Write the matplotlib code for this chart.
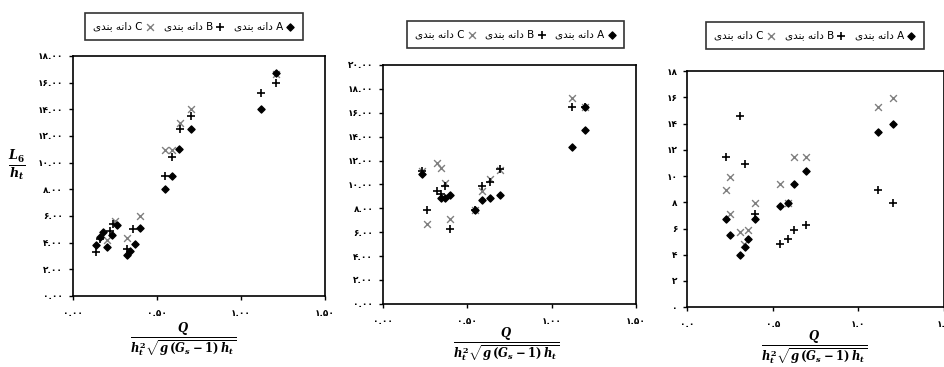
import matplotlib
matplotlib.use("Agg")
import matplotlib.pyplot as plt
from matplotlib.ticker import FuncFormatter

plt.rcParams['font.family'] = ['DejaVu Sans']
plt.rcParams['mathtext.fontset'] = 'custom'
plt.rcParams['mathtext.it'] = 'DejaVu Serif:bold:italic'
plt.rcParams['mathtext.rm'] = 'DejaVu Serif:bold'
plt.rcParams['mathtext.bf'] = 'DejaVu Serif:bold'

# panel 1 data
p1_a_x = [0.14, 0.16, 0.18, 0.20, 0.23, 0.26, 0.32, 0.34, 0.37, 0.40, 0.55, 0.59, 0.63, 0.70, 1.12, 1.21]
p1_a_y = [3.8, 4.4, 4.8, 3.7, 4.6, 5.3, 3.1, 3.4, 3.9, 5.1, 8.0, 9.0, 11.0, 12.5, 14.0, 16.7]
p1_b_x = [0.14, 0.16, 0.22, 0.24, 0.32, 0.36, 0.545, 0.59, 0.635, 0.70, 1.12, 1.21]
p1_b_y = [3.3, 4.3, 4.9, 5.4, 3.5, 5.0, 9.0, 10.45, 12.5, 13.5, 15.25, 15.95]
p1_c_x = [0.20, 0.25, 0.32, 0.40, 0.545, 0.59, 0.635, 0.70, 1.21]
p1_c_y = [4.2, 5.65, 4.35, 6.0, 10.95, 10.95, 13.0, 14.0, 16.65]

# panel 2 data
p2_a_x = [0.23, 0.343, 0.37, 0.40, 0.548, 0.587, 0.633, 0.696, 1.12, 1.20, 1.20]
p2_a_y = [10.9, 8.86, 8.86, 9.08, 7.9, 8.67, 8.86, 9.08, 13.17, 14.56, 16.5]
p2_b_x = [0.23, 0.26, 0.32, 0.345, 0.37, 0.40, 0.548, 0.587, 0.633, 0.696, 1.12, 1.20]
p2_b_y = [11.1, 7.9, 9.44, 9.2, 9.9, 6.3, 7.9, 9.83, 10.2, 11.3, 16.5, 16.5]
p2_c_x = [0.23, 0.26, 0.32, 0.343, 0.37, 0.40, 0.548, 0.587, 0.633, 0.696, 1.12, 1.20]
p2_c_y = [11.1, 6.67, 11.8, 11.4, 10.1, 7.08, 7.9, 9.44, 10.47, 11.2, 17.2, 16.5]

# panel 3 data
p3_a_x = [0.227, 0.25, 0.31, 0.337, 0.357, 0.395, 0.54, 0.59, 0.624, 0.696, 1.116, 1.20]
p3_a_y = [6.7, 5.5, 4.0, 4.6, 5.2, 6.7, 7.7, 7.95, 9.4, 10.4, 13.35, 13.95]
p3_b_x = [0.227, 0.31, 0.337, 0.395, 0.54, 0.59, 0.624, 0.696, 1.116, 1.20]
p3_b_y = [11.45, 14.6, 10.95, 7.1, 4.8, 5.2, 5.9, 6.3, 8.9, 7.95]
p3_c_x = [0.227, 0.25, 0.25, 0.31, 0.333, 0.357, 0.395, 0.54, 0.59, 0.624, 0.696, 1.116, 1.20]
p3_c_y = [8.9, 9.9, 7.1, 5.7, 4.85, 5.9, 7.95, 9.4, 7.95, 11.45, 11.45, 15.3, 15.95]

# "دانه بندی" in shaped presentation forms, visual order
persian = "\ufeef\ufeaa\ufee8\ufe91 \ufeea\ufee7\ufe8d\ufea9"
series_names = ['A', 'B', 'C']

PDIG = str.maketrans('0123456789', '\u06f0\u06f1\u06f2\u06f3\u06f4\u06f5\u06f6\u06f7\u06f8\u06f9')


def fa_fmt(dec):
    def f(v, pos):
        if dec == 0:
            s = ('%g' % v)
        else:
            s = ('%.' + str(dec) + 'f') % v
        return s.translate(PDIG)
    return FuncFormatter(f)


fig = plt.figure(figsize=(9.45, 3.67), dpi=100)

panels = [
    ([0.0772, 0.1935, 0.2667, 0.654], 18, (p1_a_x, p1_a_y, p1_b_x, p1_b_y, p1_c_x, p1_c_y), 2, 2),
    ([0.4053, 0.172, 0.2677, 0.651], 20, (p2_a_x, p2_a_y, p2_b_x, p2_b_y, p2_c_x, p2_c_y), 2, 2),
    ([0.727, 0.163, 0.272, 0.643], 18, (p3_a_x, p3_a_y, p3_b_x, p3_b_y, p3_c_x, p3_c_y), 0, 1),
]
legend_pos = [(194 / 945, 1 - 26.5 / 367), (515.5 / 945, 1 - 34.5 / 367), (815 / 945, 1 - 35.5 / 367)]
xlabel_pos = [183 / 945, 506 / 945, 814 / 945]
xlabel_y = [1 - 340 / 367, 1 - 345 / 367, 1 - 348 / 367]

for i, (rect, ymax, d, ydec, xdec) in enumerate(panels):
    ax = fig.add_axes(rect)
    ha = ax.scatter(d[0], d[1], marker='D', s=13, color='black', zorder=3)
    hb = ax.scatter(d[2], d[3], marker='+', s=30, color='black', linewidths=1.2, zorder=3)
    hc = ax.scatter(d[4], d[5], marker='x', s=24, color='#7f7f7f', linewidths=1.0, zorder=2)
    ax.set_xlim(0, 1.5)
    ax.set_ylim(0, ymax)
    ax.set_xticks([0, 0.5, 1.0, 1.5])
    ax.set_yticks(range(0, ymax + 1, 2))
    ax.xaxis.set_major_formatter(fa_fmt(xdec))
    ax.yaxis.set_major_formatter(fa_fmt(ydec))
    ax.tick_params(direction='out', length=3, width=1, labelsize=6.5)
    ax.tick_params(axis='x', pad=6.5)
    ax.tick_params(axis='y', pad=4)
    for lab in ax.get_xticklabels() + ax.get_yticklabels():
        lab.set_fontweight('bold')
    for sp in ax.spines.values():
        sp.set_linewidth(1.2)

    labels = [persian + ' ' + n for n in series_names]
    leg = fig.legend([hc, hb, ha], [labels[2], labels[1], labels[0]], loc='center',
                     bbox_to_anchor=legend_pos[i], ncol=3, markerfirst=False, fontsize=7.5,
                     frameon=True, fancybox=False, edgecolor='black', handletextpad=0.3,
                     columnspacing=0.9, handlelength=0.8, borderpad=0.8)
    leg.get_frame().set_linewidth(1.2)

    fig.text(xlabel_pos[i], xlabel_y[i], r'$\frac{Q}{h_t^2\sqrt{g\,(G_s-1)\,h_t}}$', ha='center', va='center',
             fontsize=12)

fig.text(17 / 945, 1 - 165 / 367, r'$\frac{L_6}{h_t}$', ha='center', va='center', fontsize=13)

fig.savefig('out.png', dpi=100)
